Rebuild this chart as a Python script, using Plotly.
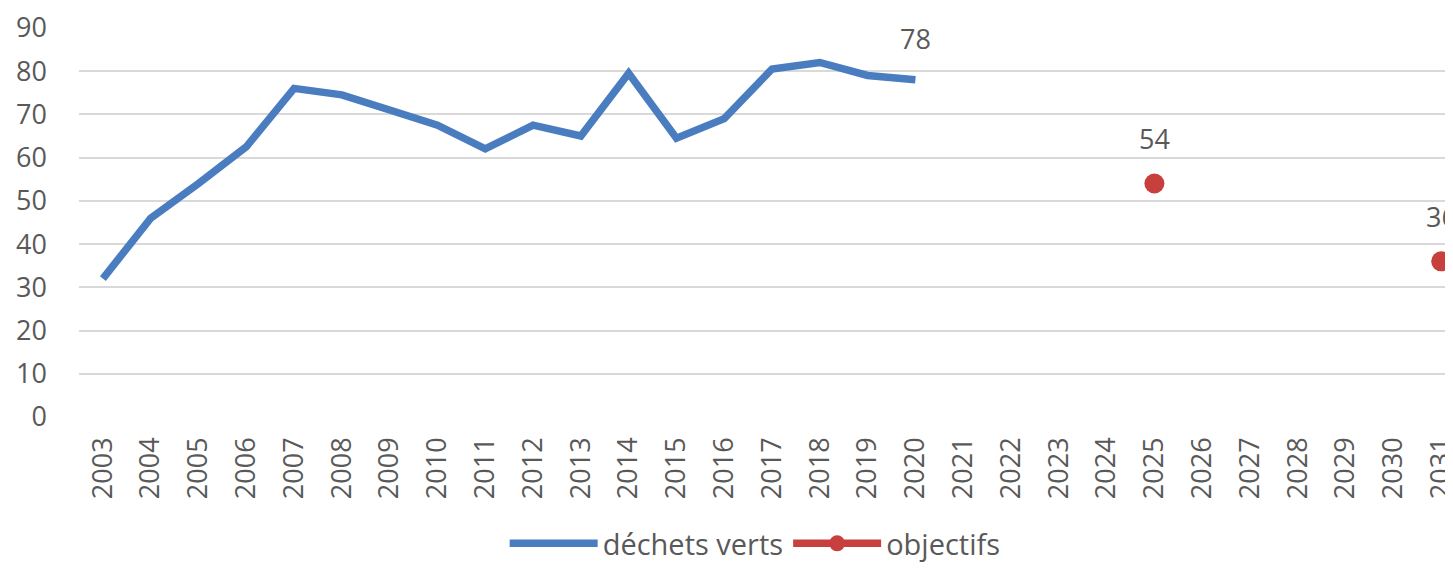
import plotly.graph_objects as go

years = [str(y) for y in range(2003, 2032)]
dechets_years = [str(y) for y in range(2003, 2021)]
dechets_verts = [32, 46, 54, 62.5, 76, 74.5, 71, 67.5, 62, 67.5, 65, 79.5, 64.5, 69, 80.5, 82, 79, 78]
objectifs_years = ["2025", "2031"]
objectifs = [54, 36]

obj_map = dict(zip(objectifs_years, objectifs))
obj_full = [obj_map.get(y) for y in years]

FONT = "Open Sans"
GREY = "#595959"
BLUE = "#4A7DC0"
RED = "#C8403E"

fig = go.Figure()
fig.add_trace(go.Scatter(
    x=dechets_years, y=dechets_verts, name="déchets verts", mode="lines",
    line=dict(color=BLUE, width=7.5),
))
fig.add_trace(go.Scatter(
    x=years, y=obj_full, name="objectifs", mode="lines+markers",
    connectgaps=False, cliponaxis=False,
    line=dict(color=RED, width=7.5),
    marker=dict(color=RED, size=20),
))

# data labels (category index positions)
fig.add_annotation(x=years.index(dechets_years[-1]), y=dechets_verts[-1],
                   text=str(dechets_verts[-1]), showarrow=False, yshift=41,
                   font=dict(family=FONT, size=27, color=GREY))
for yr, v in zip(objectifs_years, objectifs):
    fig.add_annotation(x=years.index(yr), y=v, text=str(v), showarrow=False, yshift=45,
                       font=dict(family=FONT, size=27, color=GREY))

fig.update_layout(
    width=1437, height=561,
    margin=dict(l=71, r=0, t=19, b=152, autoexpand=False),
    plot_bgcolor="white", paper_bgcolor="white",
    font=dict(family=FONT, size=27, color=GREY),
    showlegend=True,
    legend=dict(orientation="h", x=0.495, xanchor="center", y=-0.3897,
                yanchor="bottom", itemwidth=88, font=dict(family=FONT, size=29, color=GREY),
                tracegroupgap=0),
    xaxis=dict(type="category", categoryorder="array", categoryarray=years,
               range=[-0.5, 28.08], tickangle=-90, showgrid=False, zeroline=False,
               showline=False, ticks="", ticklabelstandoff=14,
               tickfont=dict(family=FONT, size=27, color=GREY)),
    yaxis=dict(range=[0, 90.2], tick0=0, dtick=10, showgrid=True, gridcolor="#D9D9D9",
               gridwidth=2, zeroline=False, showline=False, ticks="",
               ticklabelstandoff=31,
               tickfont=dict(family=FONT, size=27, color=GREY)),
)

fig.write_html("out.html")
